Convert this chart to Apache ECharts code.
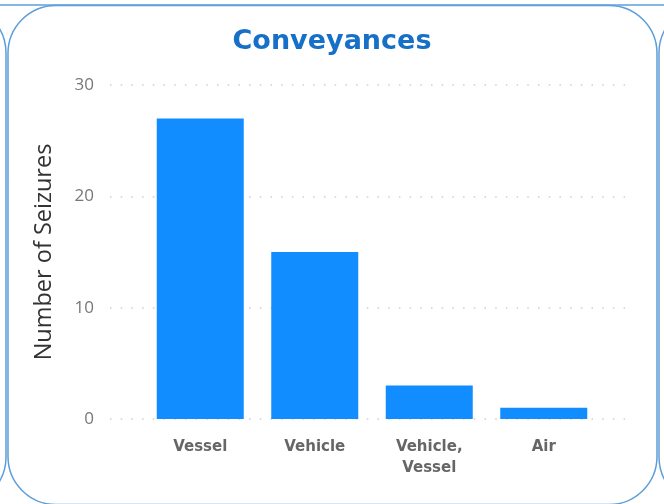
<!DOCTYPE html>
<html>
<head>
<meta charset="utf-8">
<script src="https://cdn.jsdelivr.net/npm/echarts@6/dist/echarts.min.js"></script>
<style>
html,body{margin:0;padding:0;background:#fff;}
#chart{width:664px;height:504px;}
</style>
</head>
<body>
<div id="chart"></div>
<script>
const categories = ['Vessel', 'Vehicle', 'Vehicle,\nVessel', 'Air'];
const seizures = [27, 15, 3, 1];
const yTicks = [0, 10, 20, 30];

const chart = echarts.init(document.getElementById('chart'), null, {renderer: 'canvas'});
const borderColor = '#5d9dd9';
chart.setOption({
  animation: false,
  title: {
    text: 'Conveyances',
    left: 'center',
    top: 23,
    textStyle: {fontFamily: 'DejaVu Sans', fontWeight: 'bold', fontSize: 27, color: '#1670c8'}
  },
  graphic: [
    {type: 'rect', z: -10, shape: {x: -600, y: 5, width: 606, height: 500, r: 48}, style: {fill: 'none', stroke: borderColor, lineWidth: 1.5}},
    {type: 'rect', z: -10, shape: {x: 659, y: 5, width: 600, height: 500, r: 48}, style: {fill: 'none', stroke: borderColor, lineWidth: 1.5}},
    {type: 'line', z: -9, shape: {x1: 0, y1: 5, x2: 664, y2: 5}, style: {stroke: '#86b6e6', lineWidth: 2}},
    {type: 'rect', z: -8, shape: {x: 8, y: 5.5, width: 649, height: 499, r: 48}, style: {fill: '#fff', stroke: borderColor, lineWidth: 1.5}}
  ],
  grid: [
    {left: 110, right: 32, top: 85, bottom: 85},
    {left: 143, right: 63, top: 85, bottom: 85}
  ],
  xAxis: [
    {type: 'category', gridIndex: 0, data: categories, show: false},
    {
      type: 'category', gridIndex: 1, data: categories,
      axisLine: {show: false}, axisTick: {show: false},
      axisLabel: {
        interval: 0, margin: 18,
        fontFamily: 'DejaVu Sans', fontWeight: 'bold', fontSize: 15, lineHeight: 21, color: '#666'
      }
    }
  ],
  yAxis: [
    {
      type: 'value', gridIndex: 0, min: yTicks[0], max: yTicks[yTicks.length - 1], interval: 10,
      name: 'Number of Seizures', nameLocation: 'middle', nameGap: 54, nameRotate: 90,
      nameTextStyle: {fontFamily: 'Open Sans', fontSize: 23.5, color: '#333'},
      axisLine: {show: false}, axisTick: {show: false},
      axisLabel: {margin: 16, fontFamily: 'Open Sans', fontSize: 17, color: '#777'},
      splitLine: {show: true, lineStyle: {color: '#cfcfcf', width: 1.5, type: [1.5, 9.2]}}
    },
    {
      type: 'value', gridIndex: 1, min: yTicks[0], max: yTicks[yTicks.length - 1], interval: 10,
      show: false, splitLine: {show: false}
    }
  ],
  series: [{
    type: 'bar', xAxisIndex: 1, yAxisIndex: 1,
    data: seizures, barWidth: 87,
    itemStyle: {color: '#118dff'}
  }]
});
</script>
</body>
</html>
